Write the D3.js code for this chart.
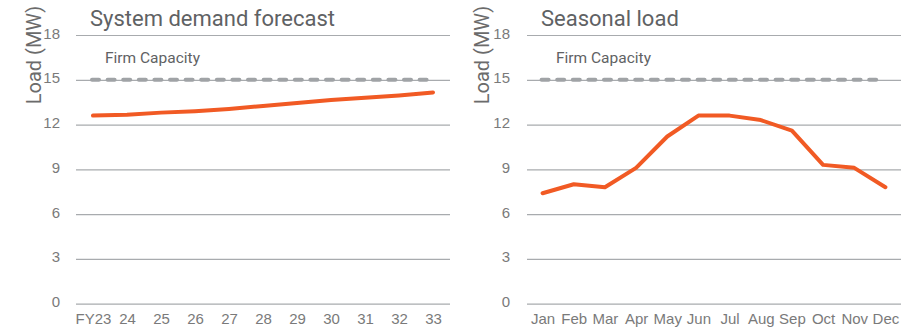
<!DOCTYPE html>
<html>
<head>
<meta charset="utf-8">
<script src="https://cdn.jsdelivr.net/npm/d3@7/dist/d3.min.js"></script>
<style>
  html, body { margin: 0; padding: 0; background: #fff; }
  svg { display: block; font-family: Roboto, "Liberation Sans", sans-serif; }
</style>
</head>
<body>
<svg id="chart" width="917" height="330"></svg>
<script>
// Annual system demand forecast (MW)
const forecastYears = ["FY23", "24", "25", "26", "27", "28", "29", "30", "31", "32", "33"];
const forecastLoad = [12.6, 12.65, 12.8, 12.9, 13.05, 13.25, 13.45, 13.65, 13.8, 13.95, 14.15];

// Monthly seasonal load profile (MW)
const months = ["Jan", "Feb", "Mar", "Apr", "May", "Jun", "Jul", "Aug", "Sep", "Oct", "Nov", "Dec"];
const seasonalLoad = [7.4, 8.0, 7.8, 9.1, 11.2, 12.6, 12.6, 12.3, 11.6, 9.3, 9.1, 7.8];

// Shared axis settings
const yTicks = [0, 3, 6, 9, 12, 15, 18];
const firmCapacity = 15;
const firmLabel = "Firm Capacity";
const yLabel = "Load (MW)";

const svg = d3.select("#chart");

const panels = [
  { title: "System demand forecast", cats: forecastYears, vals: forecastLoad, x0: 76, x1: 450, labelX: 34, tickX: 60 },
  { title: "Seasonal load", cats: months, vals: seasonalLoad, x0: 527, x1: 901, labelX: 482, tickX: 510 }
];

const yScale = d3.scaleLinear().domain([0, 18]).range([303.7, 35]);

panels.forEach(p => {
  const g = svg.append("g");
  const x = d3.scalePoint().domain(p.cats).range([p.x0, p.x1]).padding(0.5);

  // horizontal gridlines
  g.append("g")
    .attr("transform", `translate(${p.x0},0)`)
    .call(d3.axisLeft(yScale).tickValues(yTicks).tickSize(-(p.x1 - p.x0)).tickFormat(""))
    .call(s => s.select(".domain").remove())
    .call(s => s.selectAll(".tick line").attr("stroke", "#a8abae").attr("stroke-width", 1.2));

  // y tick labels
  g.append("g")
    .attr("transform", `translate(${p.tickX},0)`)
    .call(d3.axisLeft(yScale).tickValues(yTicks).tickSize(0).tickPadding(0))
    .call(s => s.select(".domain").remove())
    .call(s => s.selectAll(".tick text")
      .attr("fill", "#7a7a7a").attr("font-size", 15).attr("font-family", null).attr("dy", "0.2em"));

  // x tick labels
  g.append("g")
    .attr("transform", `translate(0,${yScale(0)})`)
    .call(d3.axisBottom(x).tickSize(0).tickPadding(10))
    .call(s => s.select(".domain").remove())
    .call(s => s.selectAll(".tick text")
      .attr("fill", "#7a7a7a").attr("font-size", 15).attr("font-family", null));

  // y axis title
  g.append("text")
    .attr("transform", `translate(${p.labelX},${55}) rotate(-90)`)
    .attr("text-anchor", "middle")
    .attr("dy", "0.35em")
    .attr("fill", "#6b6b6b")
    .attr("font-size", 20)
    .text(yLabel);

  // panel title
  g.append("text")
    .attr("x", p.x0 + 14)
    .attr("y", 26)
    .attr("fill", "#5f6264")
    .attr("font-size", 22)
    .text(p.title);

  // firm capacity reference line
  const first = p.cats[0], last = p.cats[p.cats.length - 1];
  g.append("line")
    .attr("x1", x(first) - 1).attr("x2", x(last) - 4)
    .attr("y1", yScale(firmCapacity)).attr("y2", yScale(firmCapacity))
    .attr("stroke", "#a0a3a6")
    .attr("stroke-width", 4)
    .attr("stroke-linecap", "round")
    .attr("stroke-dasharray", "7,8.6");

  g.append("text")
    .attr("x", p.x0 + 29)
    .attr("y", 63)
    .attr("fill", "#5f6264")
    .attr("font-size", 15.5)
    .text(firmLabel);

  // load series
  const line = d3.line().x((d, i) => x(p.cats[i])).y(d => yScale(d));
  g.append("path")
    .datum(p.vals)
    .attr("fill", "none")
    .attr("stroke", "#f15a24")
    .attr("stroke-width", 4)
    .attr("stroke-linecap", "round")
    .attr("stroke-linejoin", "round")
    .attr("d", line);
});
</script>
</body>
</html>
